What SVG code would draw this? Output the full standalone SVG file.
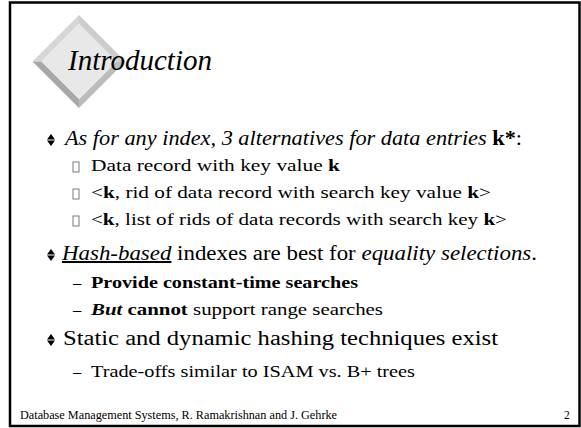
<svg xmlns="http://www.w3.org/2000/svg" width="581" height="428" viewBox="0 0 581 428">
  <style>
    text { font-family: "Liberation Serif", "Times New Roman", serif; fill: #000; }
    .title { font-size: 29px; font-style: italic; }
    .l1 { font-size: 20px; }
    .l2 { font-size: 16.5px; }
    .foot { font-size: 11.5px; }
    .i { font-style: italic; }
    .b { font-weight: bold; }
    .u { text-decoration: underline; }
    .box { fill: none; stroke: #7a7a7a; stroke-width: 1; }
  </style>
  <defs>
    <!-- up/down arrow bullet -->
    <g id="bul">
      <polygon points="0,5.5 4,0 8,5.5" fill="#000"/>
      <polygon points="0,6.5 8,6.5 4,12" fill="#000"/>
    </g>
    <rect id="sq" class="box" x="0" y="0" width="6" height="10"/>
  </defs>

  <rect x="0" y="0" width="581" height="428" fill="#fff"/>
  <!-- slide frame -->
  <rect x="10" y="2.5" width="569.5" height="423.5" fill="none" stroke="#000" stroke-width="2.5"/>

  <!-- bevelled diamond behind the title -->
  <g id="diamond">
    <polygon points="79,15 79,24 41.5,61.5 32.5,61.5" fill="#d6d6d6"/>
    <polygon points="79,15 125.5,61.5 116.5,61.5 79,24" fill="#cdcdcd"/>
    <polygon points="32.5,61.5 41.5,61.5 79,99 79,108" fill="#a8a8a8"/>
    <polygon points="125.5,61.5 79,108 79,99 116.5,61.5" fill="#bcbcbc"/>
    <polygon points="79,24 116.5,61.5 79,99 41.5,61.5" fill="#e8e8e8"/>
  </g>

  <g id="title">
    <text class="title" x="68" y="70" textLength="144" lengthAdjust="spacingAndGlyphs">Introduction</text>
  </g>

  <g id="body">
    <use href="#bul" x="47" y="134"/>
    <text class="l1" x="65" y="145" textLength="457" lengthAdjust="spacingAndGlyphs"><tspan class="i">As for any index, 3 alternatives for data entries </tspan><tspan class="b">k*</tspan>:</text>

    <use href="#sq" x="73" y="162"/>
    <text class="l2" x="91" y="171" textLength="249" lengthAdjust="spacingAndGlyphs">Data record with key value <tspan class="b">k</tspan></text>

    <use href="#sq" x="73" y="189"/>
    <text class="l2" x="91" y="198" textLength="400" lengthAdjust="spacingAndGlyphs">&lt;<tspan class="b">k</tspan>, rid of data record with search key value <tspan class="b">k</tspan>&gt;</text>

    <use href="#sq" x="73" y="216"/>
    <text class="l2" x="91" y="225" textLength="416" lengthAdjust="spacingAndGlyphs">&lt;<tspan class="b">k</tspan>, list of rids of data records with search key <tspan class="b">k</tspan>&gt;</text>

    <use href="#bul" x="47" y="249"/>
    <text class="l1" x="62" y="260" textLength="475" lengthAdjust="spacingAndGlyphs"><tspan class="i u">Hash-based</tspan> indexes are best for <tspan class="i">equality selections</tspan>.</text>

    <text class="l2" x="73" y="288">–</text>
    <text class="l2 b" x="91" y="288" textLength="267" lengthAdjust="spacingAndGlyphs">Provide constant-time searches</text>

    <text class="l2" x="73" y="315">–</text>
    <text class="l2" x="91" y="315" textLength="292" lengthAdjust="spacingAndGlyphs"><tspan class="b i">But</tspan> <tspan class="b">cannot</tspan> support range searches</text>

    <use href="#bul" x="47" y="334"/>
    <text class="l1" x="63" y="345" textLength="435" lengthAdjust="spacingAndGlyphs">Static and dynamic hashing techniques exist</text>

    <text class="l2" x="73" y="377">–</text>
    <text class="l2" x="91" y="377" textLength="324" lengthAdjust="spacingAndGlyphs">Trade-offs similar to ISAM vs. B+ trees</text>
  </g>

  <g id="footer">
    <text class="foot" x="20" y="419" textLength="317" lengthAdjust="spacingAndGlyphs">Database Management Systems, R. Ramakrishnan and J. Gehrke</text>
    <text class="foot" x="564" y="419">2</text>
  </g>
</svg>
